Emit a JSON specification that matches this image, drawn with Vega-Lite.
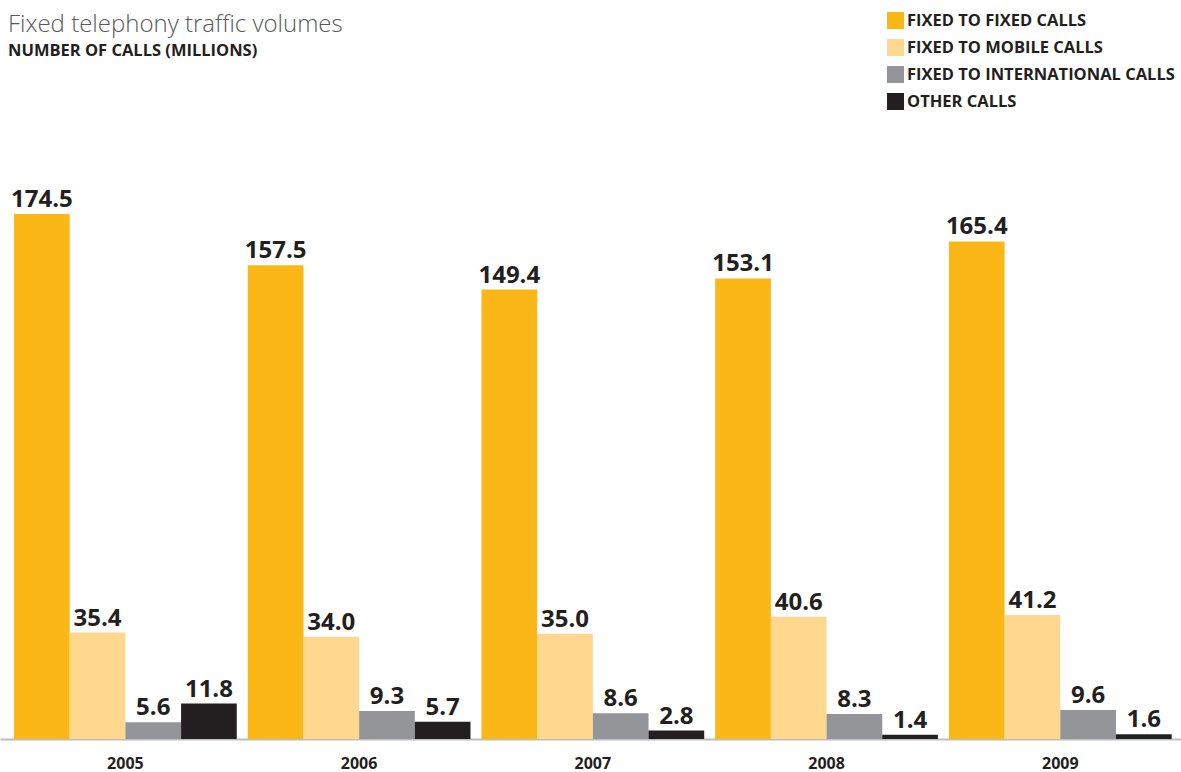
{
  "$schema": "https://vega.github.io/schema/vega-lite/v6.json",
  "autosize": {"type": "none"},
  "padding": {"left": 0, "top": 100, "right": 0, "bottom": 33},
  "width": 1181,
  "height": 639,
  "background": "white",
  "title": {
    "text": "Fixed telephony traffic volumes",
    "subtitle": "NUMBER OF CALLS (MILLIONS)",
    "anchor": "start",
    "frame": "group",
    "orient": "top",
    "offset": -47,
    "dx": 8,
    "font": "Open Sans",
    "fontSize": 24,
    "fontWeight": 300,
    "color": "#58595b",
    "subtitleFont": "Open Sans",
    "subtitleFontSize": 16.5,
    "subtitleFontWeight": "bold",
    "subtitleColor": "#231f20",
    "subtitlePadding": 6
  },
  "data": {
    "values": [
      {"year": "2005", "type": "FIXED TO FIXED CALLS", "value": 174.5},
      {"year": "2005", "type": "FIXED TO MOBILE CALLS", "value": 35.4},
      {"year": "2005", "type": "FIXED TO INTERNATIONAL CALLS", "value": 5.6},
      {"year": "2005", "type": "OTHER CALLS", "value": 11.8},
      {"year": "2006", "type": "FIXED TO FIXED CALLS", "value": 157.5},
      {"year": "2006", "type": "FIXED TO MOBILE CALLS", "value": 34.0},
      {"year": "2006", "type": "FIXED TO INTERNATIONAL CALLS", "value": 9.3},
      {"year": "2006", "type": "OTHER CALLS", "value": 5.7},
      {"year": "2007", "type": "FIXED TO FIXED CALLS", "value": 149.4},
      {"year": "2007", "type": "FIXED TO MOBILE CALLS", "value": 35.0},
      {"year": "2007", "type": "FIXED TO INTERNATIONAL CALLS", "value": 8.6},
      {"year": "2007", "type": "OTHER CALLS", "value": 2.8},
      {"year": "2008", "type": "FIXED TO FIXED CALLS", "value": 153.1},
      {"year": "2008", "type": "FIXED TO MOBILE CALLS", "value": 40.6},
      {"year": "2008", "type": "FIXED TO INTERNATIONAL CALLS", "value": 8.3},
      {"year": "2008", "type": "OTHER CALLS", "value": 1.4},
      {"year": "2009", "type": "FIXED TO FIXED CALLS", "value": 165.4},
      {"year": "2009", "type": "FIXED TO MOBILE CALLS", "value": 41.2},
      {"year": "2009", "type": "FIXED TO INTERNATIONAL CALLS", "value": 9.6},
      {"year": "2009", "type": "OTHER CALLS", "value": 1.6}
    ]
  },
  "encoding": {
    "x": {
      "field": "year",
      "type": "nominal",
      "scale": {"paddingInner": 0.047, "paddingOuter": 0.05, "align": 0.6},
      "axis": {
        "title": null,
        "labelAngle": 0,
        "ticks": false,
        "grid": false,
        "domainColor": "#bcbec0",
        "domainWidth": 2,
        "labelFont": "Open Sans",
        "labelFontSize": 16,
        "labelFontWeight": "bold",
        "labelColor": "#231f20",
        "labelPadding": 16
      }
    },
    "xOffset": {
      "field": "type",
      "type": "nominal",
      "sort": ["FIXED TO FIXED CALLS", "FIXED TO MOBILE CALLS", "FIXED TO INTERNATIONAL CALLS", "OTHER CALLS"],
      "scale": {"paddingInner": 0, "paddingOuter": 0}
    },
    "y": {
      "field": "value",
      "type": "quantitative",
      "scale": {"domain": [0, 212.4], "nice": false},
      "axis": null
    }
  },
  "layer": [
    {
      "mark": {"type": "bar", "cornerRadius": 0},
      "encoding": {
        "color": {
          "field": "type",
          "type": "nominal",
          "sort": ["FIXED TO FIXED CALLS", "FIXED TO MOBILE CALLS", "FIXED TO INTERNATIONAL CALLS", "OTHER CALLS"],
          "scale": {
            "domain": ["FIXED TO FIXED CALLS", "FIXED TO MOBILE CALLS", "FIXED TO INTERNATIONAL CALLS", "OTHER CALLS"],
            "range": ["#fbb715", "#fdd88e", "#939598", "#231f20"]
          },
          "legend": {
            "title": null,
            "orient": "none",
            "legendX": 887,
            "legendY": -88,
            "symbolType": "square",
            "symbolSize": 289,
            "symbolStrokeWidth": 0,
            "symbolOpacity": 1,
            "rowPadding": 10,
            "labelFont": "Open Sans",
            "labelFontSize": 16.5,
            "labelFontWeight": "bold",
            "labelColor": "#231f20",
            "labelOffset": 3,
            "labelLimit": 400
          }
        }
      }
    },
    {
      "mark": {
        "type": "text",
        "baseline": "alphabetic",
        "dy": -7,
        "font": "Open Sans",
        "fontSize": 24,
        "fontWeight": "bold",
        "color": "#231f20"
      },
      "encoding": {
        "text": {"field": "value", "type": "quantitative", "format": ".1f"}
      }
    }
  ],
  "config": {
    "view": {"stroke": null}
  }
}
